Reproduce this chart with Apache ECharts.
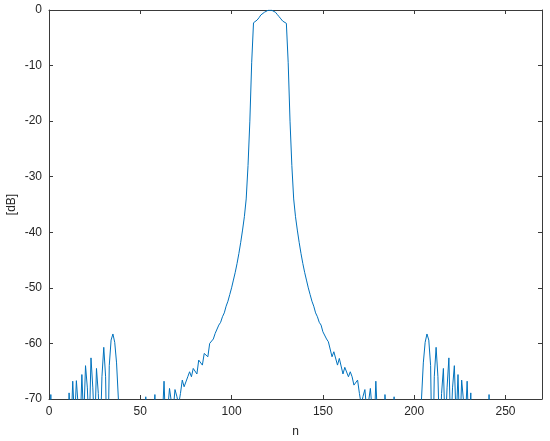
<!DOCTYPE html>
<html>
<head>
<meta charset="utf-8">
<script src="https://cdn.jsdelivr.net/npm/echarts@6/dist/echarts.min.js"></script>
<style>html,body{margin:0;padding:0;background:#fff}#c{width:550px;height:441px}</style>
</head>
<body>
<div id="c"></div>
<script>
// Magnitude in dB for samples n = 0 .. 242 (values below -70 fall under the axis floor)
const db = [
  -85, -69.2, -90, -95, -88, -92, -85, -90, -84, -88,
  -80, -68.9, -76, -66.8, -74, -66.7, -66.6, -76, -65.6, -74,
  -64.0, -68, -76, -62.6, -68, -76, -64.5, -69, -78, -66,
  -60.7, -66, -85, -64, -59.4, -58.3, -59.8, -63.5, -70, -90,
  -85, -80, -88, -92, -84, -90, -86, -82, -95, -88,
  -84, -90, -78, -69.6, -80, -82, -90, -74, -69.2, -78,
  -80, -88, -74, -66.8, -76, -72, -68.1, -70.5, -72, -68.3,
  -69.5, -71, -69, -66.6, -67.8, -67.5, -66, -65.1, -66, -64.5,
  -64.3, -65.5, -63, -62.7, -63.9, -61.8, -61.5, -62.4, -60.0, -59.7,
  -59.2, -58.2, -57.9, -56.7, -56.2, -55.2, -54.5, -53.3, -52.4, -51.2,
  -50.0, -48.6, -47.2, -45.6, -43.8, -41.8, -39.6, -37.2, -34.0, -28,
  -20, -9.5, -2.3, -2.1, -1.8, -1.4, -0.9, -0.6, -0.4, -0.15,
  -0.05, 0, -0.05, -0.15, -0.4, -0.8, -1.2, -1.6, -2.0, -2.2,
  -2.4, -9.5, -20, -28, -34, -37.2, -39.6, -41.8, -43.8, -45.6,
  -47.2, -48.6, -50.0, -51.2, -52.4, -53.3, -54.5, -55.2, -56.2, -56.7,
  -57.9, -58.2, -59.2, -59.7, -60.0, -62.4, -61.5, -61.8, -63.9, -62.7,
  -63, -65.5, -64.3, -64.5, -66, -65.1, -66, -67.5, -67.8, -66.6,
  -69, -71, -69.5, -68.3, -72, -70.5, -68.1, -72, -76, -66.8,
  -74, -88, -80, -78, -69.2, -74, -90, -82, -80, -69.6,
  -78, -90, -88, -95, -86, -82, -90, -84, -92, -88,
  -80, -85, -85, -90, -70, -63.5, -59.8, -58.3, -59.4, -64,
  -85, -66, -60.7, -66, -78, -69, -64.5, -76, -68, -62.6,
  -76, -68, -64.0, -74, -65.6, -76, -66.6, -66.7, -74, -66.8,
  -76, -68.9, -80, -88, -84, -90, -85, -92, -88, -95,
  -90, -69.2, -85
];
const xTicks = { min: 0, max: 270, interval: 50 };
const yTicks = { min: -70, max: 0, interval: 10 };
const xName = 'n';
const yName = '[dB]';

const axisColor = '#3a3a3a';
const textColor = '#262626';
const font = 'Liberation Sans, Arial, Helvetica, sans-serif';

function baseAxis(extra) {
  return Object.assign({
    type: 'value',
    axisLine: { show: true, onZero: false, lineStyle: { color: axisColor, width: 1 } },
    axisTick: { show: true, inside: true, length: 4, lineStyle: { color: axisColor } },
    splitLine: { show: false },
    axisLabel: { color: textColor, fontSize: 12, fontFamily: font, margin: 7 }
  }, extra);
}

const chart = echarts.init(document.getElementById('c'), null, { renderer: 'canvas' });
chart.setOption({
  animation: false,
  backgroundColor: '#ffffff',
  grid: { left: 49, top: 10, right: 8, bottom: 42, containLabel: false, outerBoundsMode: 'none' },
  xAxis: [
    baseAxis({ position: 'bottom', min: xTicks.min, max: xTicks.max, interval: xTicks.interval,
      name: xName, nameLocation: 'middle', nameGap: 27, nameMoveOverlap: false,
      nameTextStyle: { color: textColor, fontSize: 12, fontFamily: font },
      axisLabel: { color: textColor, fontSize: 12, fontFamily: font, margin: 7,
        showMaxLabel: false } }),
    baseAxis({ position: 'top', min: xTicks.min, max: xTicks.max, interval: xTicks.interval,
      axisLabel: { show: false } })
  ],
  yAxis: [
    baseAxis({ position: 'left', min: yTicks.min, max: yTicks.max, interval: yTicks.interval,
      name: yName, nameLocation: 'middle', nameGap: 31, nameRotate: 90, nameMoveOverlap: false,
      nameTextStyle: { color: textColor, fontSize: 12, fontFamily: font } }),
    baseAxis({ position: 'right', min: yTicks.min, max: yTicks.max, interval: yTicks.interval,
      axisLabel: { show: false } })
  ],
  series: [{
    type: 'line',
    xAxisIndex: 0,
    yAxisIndex: 0,
    data: db.map((v, i) => [i, v]),
    showSymbol: false,
    clip: true,
    lineStyle: { color: '#0072BD', width: 1 },
    itemStyle: { color: '#0072BD' }
  }]
});
</script>
</body>
</html>
